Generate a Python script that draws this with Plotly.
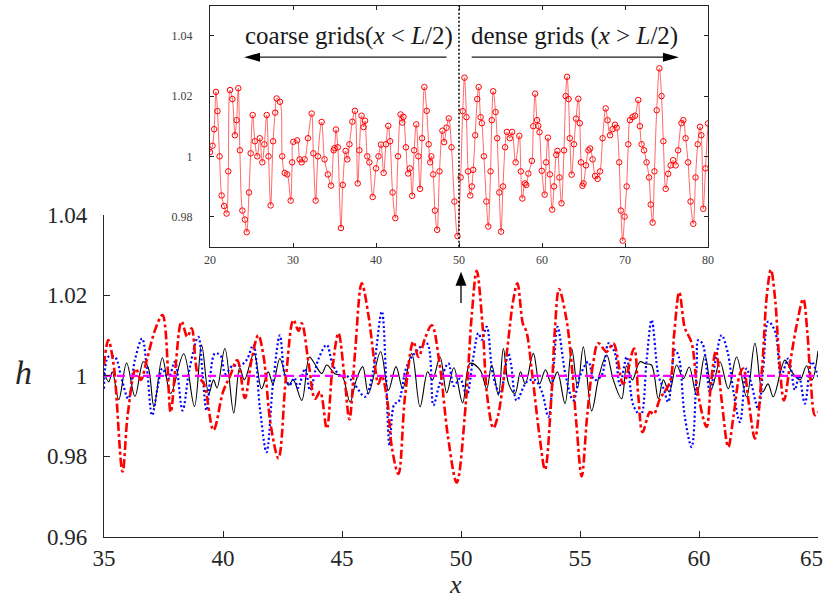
import plotly.graph_objects as go

# ---------------- main window data (35 <= x <= 65) ----------------
black_x = [35.0, 35.2, 35.35, 35.62, 35.95, 36.3, 36.65, 36.85, 37.1, 37.45, 37.8, 38.35,
           38.8, 39.1, 39.4, 39.6, 39.75, 40.08, 40.45, 40.7, 40.9, 41.3, 41.62, 41.9,
           42.1, 42.39, 42.75, 42.95, 43.31, 43.63, 43.85, 44.15, 44.36, 44.7, 45.0, 45.34,
           45.6, 45.87, 46.11, 46.62, 46.95, 47.27, 47.55, 47.93, 48.28, 48.6, 48.8, 49.12,
           49.4, 49.7, 50.07, 50.38, 50.8, 51.08, 51.29, 51.57, 51.78, 52.0, 52.27, 52.5,
           52.7, 53.04, 53.3, 53.55, 53.8, 54.05, 54.37, 54.65, 54.9, 55.14, 55.49, 55.8,
           56.12, 56.4, 56.75, 56.96, 57.2, 57.52, 57.75, 58.0, 58.29, 58.5, 58.75, 59.06,
           59.34, 59.59, 59.9, 60.25, 60.53, 60.88, 61.23, 61.58, 62.0, 62.35, 62.67, 62.9,
           63.12, 63.61, 63.9, 64.24, 64.52, 64.75, 65.0]
black_y = [1.001, 0.9985, 1.001, 0.9941, 1.0032, 0.9949, 1.0035, 1.0022, 0.9923, 1.0045, 0.9956, 1.0055,
           0.9924, 1.0077, 0.9955, 0.999, 0.997, 1.0068, 0.9908, 1.002, 0.999, 1.0056, 0.9968, 1.001,
           0.998, 1.0043, 0.9977, 0.999, 0.9939, 1.0047, 1.003, 1.0006, 1.0027, 1.0005, 1.0, 0.9935,
           0.999, 1.0023, 0.9956, 1.006, 0.9964, 1.0023, 0.9968, 1.0056, 0.9923, 1.001, 0.999, 1.0047,
           0.9958, 1.002, 0.9933, 1.0031, 1.0015, 0.9968, 1.0027, 0.9952, 1.0068, 0.998, 0.9956, 1.001,
           0.998, 1.0056, 0.998, 1.0015, 0.998, 1.001, 0.9931, 1.0068, 0.997, 1.0072, 0.9913, 1.0,
           1.0052, 0.999, 0.9943, 1.0025, 0.999, 1.0035, 1.003, 1.0027, 0.9943, 0.999, 0.996, 1.0027,
           0.9993, 1.0022, 0.9952, 1.0052, 0.9968, 1.0035, 0.9968, 1.0047, 0.9948, 1.0081, 0.996, 0.998,
           0.9948, 1.0039, 1.001, 0.999, 1.0025, 0.999, 1.0062]

blue_x = [35.0, 35.18, 35.46, 35.75, 36.02, 36.3, 36.6, 36.8, 37.02, 37.25, 37.45, 37.7,
          37.98, 38.3, 38.6, 38.96, 39.15, 39.31, 39.66, 39.9, 40.1, 40.4, 40.7, 41.0,
          41.27, 41.55, 41.83, 42.1, 42.39, 42.6, 42.8, 43.0, 43.15, 43.45, 43.66, 44.0,
          44.36, 44.6, 44.92, 45.2, 45.55, 45.97, 46.3, 46.67, 46.85, 47.0, 47.2, 47.37,
          47.7, 48.0, 48.56, 48.84, 49.1, 49.47, 49.7, 49.96, 50.24, 50.5, 50.73, 50.87,
          51.08, 51.35, 51.64, 51.99, 52.1, 52.34, 52.76, 53.1, 53.4, 53.67, 53.9, 54.06,
          54.4, 54.72, 55.0, 55.35, 55.6, 55.9, 56.2, 56.45, 56.68, 56.96, 57.24, 57.55,
          57.8, 58.01, 58.3, 58.5, 58.71, 58.99, 59.15, 59.4, 59.69, 59.9, 59.97, 60.15,
          60.46, 60.7, 60.95, 61.2, 61.45, 61.72, 62.0, 62.2, 62.49, 62.7, 62.91, 63.2,
          63.45, 63.75, 64.03, 64.2, 64.45, 64.73, 65.0]
blue_y = [0.9968, 1.0047, 1.0047, 0.999, 0.9943, 1.004, 1.0093, 1.002, 0.9902, 0.997, 1.0018, 0.9993,
          1.0035, 0.9914, 1.002, 1.0097, 1.0, 0.9914, 1.0056, 1.005, 1.0005, 1.0025, 1.0025, 1.004,
          1.0077, 0.992, 0.981, 0.998, 1.0101, 1.0, 0.9977, 0.9995, 0.997, 1.0018, 0.9964, 1.004,
          1.0077, 1.003, 1.0, 1.0, 0.9977, 0.9948, 1.001, 1.016, 1.0, 0.9827, 0.993, 0.9935,
          1.002, 1.0052, 1.0081, 0.9927, 0.998, 1.0031, 0.9975, 0.9993, 0.9952, 1.004, 1.0106, 1.009,
          1.0122, 1.0, 0.9956, 1.0056, 1.003, 0.9939, 0.9985, 0.999, 0.996, 0.9898, 1.003, 1.0122,
          1.0, 0.9939, 1.0, 1.0035, 0.999, 1.0, 1.0081, 1.006, 0.9977, 1.0047, 0.9927, 0.9902,
          1.004, 1.0139, 1.0, 0.997, 0.9935, 1.0064, 1.0047, 0.990, 0.9823, 1.002, 1.0089, 1.008,
          0.996, 1.004, 1.0101, 1.006, 0.996, 0.9885, 1.0018, 0.998, 0.9918, 1.002, 1.0135, 1.011,
          1.0, 1.0043, 0.9965, 1.0, 0.9931, 1.0035, 0.9998]

red_x = [35.0, 35.18, 35.4, 35.78, 36.0, 36.34, 36.55, 36.8, 37.15, 37.46, 37.8, 38.0,
         38.26, 38.5, 38.68, 38.95, 39.2, 39.6, 40.0, 40.3, 40.6, 40.92, 41.2, 41.48,
         41.7, 42.0, 42.33, 42.65, 42.96, 43.17, 43.31, 43.6, 43.87, 44.08, 44.36, 44.6,
         44.85, 45.1, 45.31, 45.55, 45.83, 46.11, 46.35, 46.53, 46.67, 46.9, 47.1, 47.37,
         47.65, 48.0, 48.21, 48.5, 48.77, 49.1, 49.45, 49.82, 50.2, 50.45, 50.66, 50.9,
         51.1, 51.36, 51.55, 51.71, 51.95, 52.2, 52.37, 52.6, 52.75, 53.0, 53.3, 53.53,
         53.8, 53.95, 54.12, 54.41, 54.6, 54.85, 55.07, 55.3, 55.55, 55.77, 56.12, 56.4,
         56.82, 57.27, 57.45, 57.63, 57.94, 58.1, 58.36, 58.78, 58.95, 59.17, 59.4, 59.55,
         59.7, 59.97, 60.32, 60.5, 60.71, 60.95, 61.23, 61.45, 61.72, 61.86, 62.1, 62.35,
         62.65, 62.85, 63.02, 63.2, 63.35, 63.57, 63.85, 64.1, 64.38, 64.55, 64.7, 64.87, 65.0]
red_y = [1.0027, 1.0089, 1.003, 0.9762, 0.9905, 1.0018, 0.999, 1.004, 1.0115, 1.0151, 0.991, 1.002,
         1.0135, 1.0097, 1.0118, 1.0, 0.998, 0.9865, 0.996, 1.0, 1.0039, 0.9945, 1.004, 1.0101,
         1.005, 0.988, 0.9795, 1.0, 1.0139, 1.0112, 1.0131, 1.003, 0.9943, 0.996, 0.9869, 1.002,
         1.0106, 1.0, 0.9892, 1.006, 1.023, 1.0151, 1.004, 0.998, 1.0, 0.994, 0.982, 0.9756,
         0.995, 1.0085, 1.0047, 1.0095, 1.0126, 1.003, 0.985, 0.9735, 0.993, 1.015, 1.0261, 1.013,
         0.995, 0.987, 0.990, 0.9955, 1.007, 1.019, 1.023, 1.013, 1.011, 1.0, 0.985, 0.9767,
         0.995, 1.012, 1.0216, 1.0147, 1.006, 0.988, 0.975, 0.99, 1.003, 1.0081, 1.006, 1.0081,
         0.998, 1.0068, 0.995, 0.986, 0.991, 0.9905, 0.9943, 0.9985, 1.01, 1.0208, 1.012, 1.0101,
         1.008, 0.9952, 0.9873, 0.998, 1.0062, 0.994, 0.9823, 0.990, 1.0005, 1.0018, 0.993, 0.9844,
         1.002, 1.02, 1.0264, 1.019, 1.006, 0.9939, 1.004, 1.0125, 1.0191, 1.011, 0.998, 0.9902, 0.991]

base_x = [35.0, 65.0]
base_y = [1.0, 1.0]

# ---------------- inset: red profile over the full domain ----------------
red_x_left = [20.0, 20.3, 20.5, 20.72, 20.9, 21.15, 21.4, 21.7, 22.0, 22.2, 22.41, 22.7,
              23.0, 23.2, 23.41, 23.6, 23.9, 24.2, 24.42, 24.7, 24.9, 25.14, 25.4, 25.7,
              26.0, 26.3, 26.55, 26.83, 27.05, 27.31, 27.6, 27.85, 28.03, 28.43, 28.7, 29.0,
              29.3, 29.72, 29.9, 30.04, 30.5, 30.8, 31.04, 31.4, 31.8, 32.25, 32.45, 32.73,
              33.0, 33.45, 33.8, 34.2, 34.58, 34.9]
red_y_left = [1.0014, 1.0035, 1.009, 1.0214, 1.015, 1.0, 0.987, 0.9835, 0.981, 0.995, 1.022, 1.019,
              1.007, 1.012, 1.0226, 1.002, 0.982, 0.979, 0.9748, 0.988, 1.001, 1.0137, 1.005, 1.0,
              1.006, 0.998, 1.004, 1.0137, 1.0, 0.9837, 1.005, 1.0145, 1.0192, 1.0181, 1.0, 0.9945,
              0.994, 0.9853, 0.998, 1.0048, 1.0053, 0.999, 0.998, 0.999, 1.006, 1.0142, 1.001, 0.9853,
              1.0, 1.0114, 0.999, 0.994, 0.9903, 1.002]
red_x_right = [65.3, 65.6, 65.8, 66.1, 66.4, 66.7, 67.0, 67.3, 67.67, 67.9, 68.2, 68.5,
               68.8, 69.0, 69.3, 69.5, 69.72, 69.95, 70.2, 70.4, 70.6, 70.9, 71.2, 71.6,
               71.8, 72.0, 72.3, 72.6, 72.9, 73.1, 73.33, 73.55, 73.82, 74.14, 74.4, 74.62,
               74.9, 75.2, 75.5, 75.8, 76.1, 76.4, 76.8, 77.03, 77.3, 77.6, 77.9, 78.23,
               78.5, 78.76, 79.04, 79.2, 79.43, 79.7, 80.0]
red_y_right = [0.997, 1.002, 1.0026, 0.999, 0.9935, 0.9925, 0.995, 1.006, 1.0159, 1.012, 1.007, 1.009,
               1.0105, 1.0095, 0.998, 0.982, 0.972, 0.98, 0.990, 1.004, 1.012, 1.013, 1.0135, 1.0187,
               1.01, 1.004, 1.002, 0.998, 0.993, 0.984, 0.978, 0.995, 1.0153, 1.0292, 1.02, 1.005,
               0.9892, 0.9942, 0.997, 0.9987, 0.997, 1.002, 1.011, 1.012, 1.006, 0.998, 0.985, 0.9776,
               0.993, 1.004, 1.0098, 1.007, 0.9826, 0.996, 1.0109]

inset_x = red_x_left + red_x + red_x_right
inset_y = red_y_left + red_y + red_y_right

main_xticks = [35, 40, 45, 50, 55, 60, 65]
main_xticktext = ["35", "40", "45", "50", "55", "60", ""]   # the 65 label sits flush with the right edge
main_yticks = [0.96, 0.98, 1.0, 1.02, 1.04]
main_yticktext = ["0.96", "0.98", "1", "1.02", "1.04"]
inset_xticks = [20, 30, 40, 50, 60, 70, 80]
inset_yticks = [0.98, 1.0, 1.02, 1.04]
inset_yticktext = ["0.98", "1", "1.02", "1.04"]

W, H = 825, 599
SERIF = "Liberation Serif, Times New Roman, serif"
AX = "#262626"

fig = go.Figure()

fig.add_trace(go.Scatter(x=black_x, y=black_y, mode="lines", line_shape="spline",
                         line=dict(color="black", width=1.1), xaxis="x", yaxis="y"))
fig.add_trace(go.Scatter(x=blue_x, y=blue_y, mode="lines", line_shape="spline",
                         line=dict(color="#0000ff", width=2.2, dash="2px,2.5px"), xaxis="x", yaxis="y"))
fig.add_trace(go.Scatter(x=red_x, y=red_y, mode="lines", line_shape="spline",
                         line=dict(color="#ff0000", width=2.6, dash="9px,3px,3px,3px"), xaxis="x", yaxis="y"))
fig.add_trace(go.Scatter(x=base_x, y=base_y, mode="lines",
                         line=dict(color="#ff00ff", width=2.2, dash="8px,5px"), xaxis="x", yaxis="y"))

fig.add_trace(go.Scatter(x=inset_x, y=inset_y, mode="lines+markers", line_shape="spline",
                         line=dict(color="rgba(255,0,0,0.75)", width=0.8),
                         marker=dict(symbol="circle-open", size=5.5, color="#ff0000", line=dict(width=1)),
                         xaxis="x2", yaxis="y2"))


def px2x(p):
    return p / W


def py2y(p):
    return 1 - p / H


main_dom_x = [px2x(104), px2x(818)]
main_dom_y = [py2y(536.7), py2y(215)]
ins_dom_x = [px2x(210), px2x(708)]
ins_dom_y = [py2y(246.7), py2y(5.7)]

axis_common = dict(showgrid=False, zeroline=False, showline=True, ticks="inside",
                   linecolor=AX, tickcolor=AX, automargin=False)

fig.update_layout(
    template="none",
    width=W, height=H, autosize=False,
    margin=dict(l=0, r=0, t=0, b=0, pad=0, autoexpand=False),
    paper_bgcolor="white", plot_bgcolor="rgba(0,0,0,0)",
    showlegend=False,
    xaxis=dict(domain=main_dom_x, range=[35, 65], anchor="y", tickvals=main_xticks,
               ticktext=main_xticktext,
               ticklen=6, linewidth=1.3, tickwidth=1.3, mirror=False,
               tickfont=dict(family=SERIF, size=23, color=AX), ticklabelstandoff=1,
               **axis_common),
    yaxis=dict(domain=main_dom_y, range=[0.96, 1.04], anchor="x", tickvals=main_yticks,
               ticktext=main_yticktext, ticklen=6, linewidth=1.3, tickwidth=1.3, mirror=False,
               tickfont=dict(family=SERIF, size=23, color=AX), ticklabelstandoff=11,
               **axis_common),
    xaxis2=dict(domain=ins_dom_x, range=[20, 80], anchor="y2", tickvals=inset_xticks,
                ticklen=4, linewidth=1, tickwidth=1, mirror="ticks",
                tickfont=dict(family=SERIF, size=12, color="#404040"), ticklabelstandoff=2,
                **axis_common),
    yaxis2=dict(domain=ins_dom_y, range=[0.97, 1.05], anchor="x2", tickvals=inset_yticks,
                ticktext=inset_yticktext, ticklen=4, linewidth=1, tickwidth=1, mirror="ticks",
                tickfont=dict(family=SERIF, size=12, color="#404040"), ticklabelstandoff=14,
                **axis_common),
)

# white backdrop for the inset panel
fig.add_shape(type="rect", xref="x2 domain", yref="y2 domain", x0=0, x1=1, y0=0, y1=1,
              fillcolor="white", line=dict(width=0), layer="below")

# boundary between coarse and dense grids
fig.add_shape(type="line", xref="x2", yref="y2 domain", x0=50, x1=50, y0=0, y1=1,
              line=dict(color="black", width=1.5, dash="2px,2px"))

# horizontal arrows in the inset
arrow_y = 1.0329
fig.add_shape(type="line", xref="x2", yref="y2", x0=48.5, x1=25.5, y0=arrow_y, y1=arrow_y,
              line=dict(color="#1a1a1a", width=1.3))
fig.add_shape(type="path", xref="x2", yref="y2", xsizemode="pixel", ysizemode="pixel",
              xanchor=24.1, yanchor=arrow_y, path="M0,0 L16,4.5 L16,-4.5 Z",
              fillcolor="black", line=dict(width=0))
fig.add_shape(type="line", xref="x2", yref="y2", x0=51.53, x1=75.0, y0=arrow_y, y1=arrow_y,
              line=dict(color="#1a1a1a", width=1.3))
fig.add_shape(type="path", xref="x2", yref="y2", xsizemode="pixel", ysizemode="pixel",
              xanchor=76.5, yanchor=arrow_y, path="M0,0 L-16,4.5 L-16,-4.5 Z",
              fillcolor="black", line=dict(width=0))

# vertical arrow pointing at x = L/2 in the main window
fig.add_shape(type="line", xref="x", yref="y", x0=50, x1=50, y0=1.0181, y1=1.0235,
              line=dict(color="black", width=1.3))
fig.add_shape(type="path", xref="x", yref="y", xsizemode="pixel", ysizemode="pixel",
              xanchor=50, yanchor=1.0259, path="M0,0 L-5.5,-14 L5.5,-14 Z",
              fillcolor="black", line=dict(width=0))

fig.add_annotation(xref="x2", yref="y2", x=36.8, y=1.04, showarrow=False,
                   text="coarse grids(<i>x</i> &lt; <i>L</i>/2)",
                   font=dict(family=SERIF, size=25, color="#1a1a1a"),
                   xanchor="center", yanchor="middle")
fig.add_annotation(xref="x2", yref="y2", x=63.86, y=1.04, showarrow=False,
                   text="dense grids (<i>x</i> &gt; <i>L</i>/2)",
                   font=dict(family=SERIF, size=25, color="#1a1a1a"),
                   xanchor="center", yanchor="middle")

# last x tick label, right-aligned to the page edge
fig.add_annotation(xref="paper", yref="paper", x=1.0, y=1 - 558 / H, showarrow=False,
                   text=str(main_xticks[-1]), font=dict(family=SERIF, size=23, color=AX),
                   xanchor="right", yanchor="middle")

# axis titles
fig.add_annotation(xref="paper", yref="paper", x=23 / W, y=1 - 372 / H, showarrow=False,
                   text="<i>h</i>", font=dict(family=SERIF, size=34, color=AX),
                   xanchor="center", yanchor="middle")
fig.add_annotation(xref="paper", yref="paper", x=455 / W, y=1 - 584 / H, showarrow=False,
                   text="<i>x</i>", font=dict(family=SERIF, size=26, color=AX),
                   xanchor="center", yanchor="middle")

fig.write_html("out.html")
